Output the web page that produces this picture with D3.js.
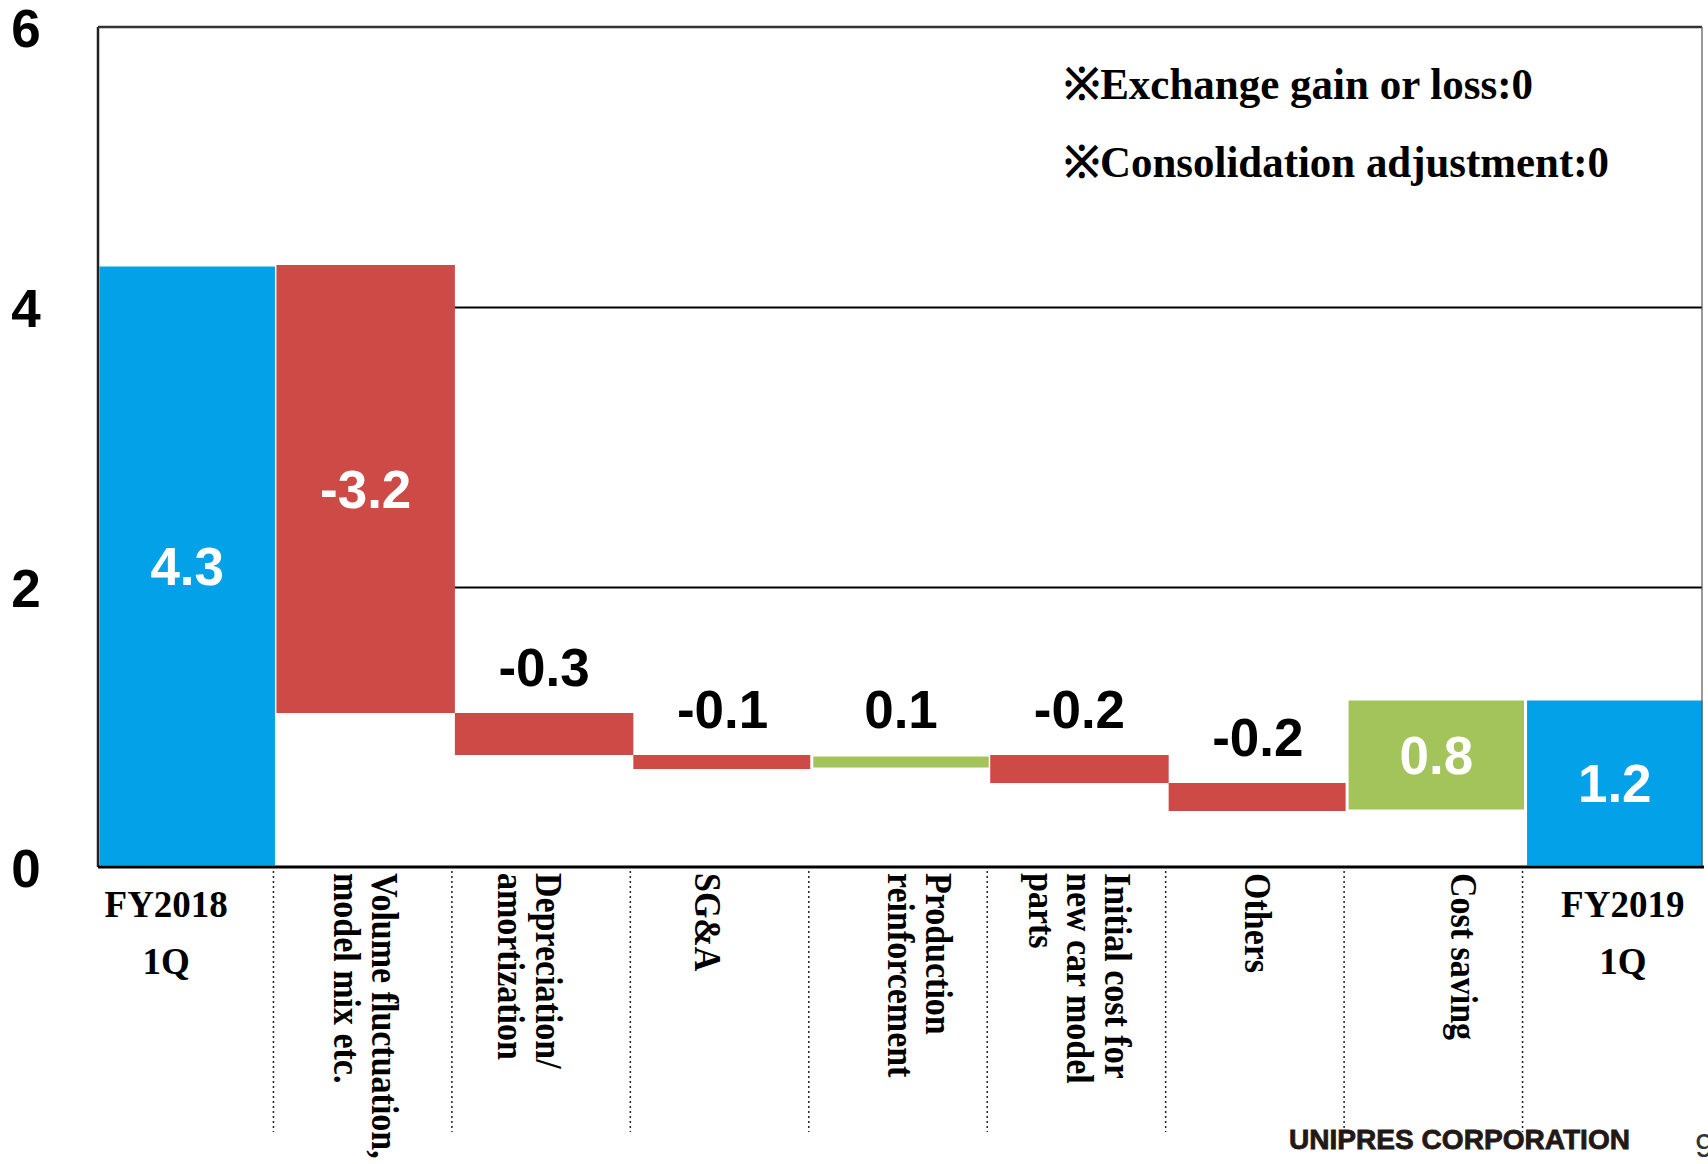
<!DOCTYPE html>
<html>
<head>
<meta charset="utf-8">
<script src="https://cdn.jsdelivr.net/npm/d3@7"></script>
<style>
    body { margin: 0; background: #fff; }
    svg { display: block; }
</style>
</head>
<body>
<div id="wrapper"></div>
<script>
// data
const categories = [
    ["FY2018", "1Q"],
    ["Volume fluctuation,", "model mix etc."],
    ["Depreciation/", "amortization"],
    ["SG&A"],
    ["Production", "reinforcement"],
    ["Initial cost for", "new car model", "parts"],
    ["Others"],
    ["Cost saving"],
    ["FY2019", "1Q"]
]
const values = [4.3, -3.2, -0.3, -0.1, 0.1, -0.2, -0.2, 0.8, 1.2]
const kinds = ["total", "delta", "delta", "delta", "delta", "delta", "delta", "delta", "total"]
const yTicks = [0, 2, 4, 6]
const notes = ["※Exchange gain or loss:0", "※Consolidation adjustment:0"]

const colors = { total: "#02a1e8", down: "#cd4a47", up: "#a2c45a" }
// small horizontal nudges of the category labels (px)
const labelNudge = [-21, 0, -15, -15, 19, 0, 0, 27, 8]

function drawWaterfall() {
    const dimensions = {
        width: 1708,
        height: 1164,
        left: 98,
        right: 1704,
        top: 27,
        bottom: 867
    }

    // waterfall steps
    let running = 0
    const steps = values.map((v, i) => {
        let start, end
        if (kinds[i] === "total") {
            start = 0
            end = v
            running = v
        } else {
            start = running
            end = running + v
            running = end
        }
        return { i, v, kind: kinds[i], lo: Math.min(start, end), hi: Math.max(start, end) }
    })

    const wrapper = d3.select("#wrapper")
        .append("svg")
        .attr("width", dimensions.width)
        .attr("height", dimensions.height)

    wrapper.append("rect")
        .attr("width", dimensions.width)
        .attr("height", dimensions.height)
        .attr("fill", "#fff")

    // scales
    const xScale = d3.scaleBand()
        .domain(d3.range(categories.length))
        .range([dimensions.left, dimensions.right])
        .padding(0)

    const yScale = d3.scaleLinear()
        .domain([0, 6])
        .range([dimensions.bottom, dimensions.top])

    // gridlines
    wrapper.append("g")
        .attr("transform", `translate(${dimensions.left},0)`)
        .call(d3.axisLeft(yScale)
            .tickValues([2, 4])
            .tickSize(-(1702 - dimensions.left))
            .tickFormat(""))
        .call(g => g.select(".domain").remove())
        .call(g => g.selectAll("line").attr("stroke", "#000").attr("stroke-width", 2))

    // bars
    wrapper.append("g")
        .selectAll("rect")
        .data(steps)
        .enter().append("rect")
        .attr("x", d => xScale(d.i))
        .attr("y", d => yScale(d.hi))
        .attr("width", xScale.bandwidth())
        .attr("height", d => yScale(d.lo) - yScale(d.hi))
        .attr("fill", d => d.kind === "total" ? colors.total : (d.v < 0 ? colors.down : colors.up))
        .attr("stroke", d => d.kind === "total" || d.v > 0 ? "#fff" : "none")
        .attr("stroke-width", 3)

    // frame
    const frame = wrapper.append("g").attr("fill", "none")
    frame.append("line")
        .attr("x1", dimensions.left).attr("x2", dimensions.left)
        .attr("y1", dimensions.top).attr("y2", dimensions.bottom)
        .attr("stroke", "#222").attr("stroke-width", 2.5)
    frame.append("line")
        .attr("x1", dimensions.left).attr("x2", 1702)
        .attr("y1", dimensions.top).attr("y2", dimensions.top)
        .attr("stroke", "#333").attr("stroke-width", 2.5)
    frame.append("line")
        .attr("x1", 1702).attr("x2", 1702)
        .attr("y1", dimensions.top).attr("y2", dimensions.bottom)
        .attr("stroke", "#555").attr("stroke-width", 1.2)

    // x axis line
    wrapper.append("g")
        .attr("transform", `translate(0,${dimensions.bottom})`)
        .call(d3.axisBottom(xScale).tickSize(0).tickFormat(""))
        .call(g => g.select(".domain")
            .attr("stroke", "#000")
            .attr("stroke-width", 3)
            .attr("d", `M${dimensions.left},0H${dimensions.right}`))

    // y axis labels
    wrapper.append("g")
        .attr("transform", "translate(26,0)")
        .call(d3.axisLeft(yScale)
            .tickValues(yTicks)
            .tickFormat(d3.format("d"))
            .tickSize(0)
            .tickPadding(0))
        .call(g => g.select(".domain").remove())
        .call(g => g.selectAll("text")
            .attr("x", 0)
            .attr("text-anchor", "middle")
            .attr("dy", "0.36em")
            .attr("fill", "#000")
            .style("font-family", "'Liberation Sans', Arial, sans-serif")
            .style("font-weight", "bold")
            .style("font-size", "53px"))

    // value labels
    const isInside = d => yScale(d.lo) - yScale(d.hi) > 80
    wrapper.append("g")
        .selectAll("text")
        .data(steps)
        .enter().append("text")
        .attr("x", d => xScale(d.i) + xScale.bandwidth() / 2)
        .attr("y", d => isInside(d)
            ? (yScale(d.lo) + yScale(d.hi)) / 2 + 19
            : yScale(d.hi) - 27)
        .attr("text-anchor", "middle")
        .attr("fill", d => isInside(d) ? "#fff" : "#000")
        .style("font-family", "'Liberation Sans', Arial, sans-serif")
        .style("font-weight", "bold")
        .style("font-size", "53px")
        .text(d => d.v.toFixed(1))

    // separators
    wrapper.append("g")
        .selectAll("line")
        .data(d3.range(1, categories.length))
        .enter().append("line")
        .attr("x1", i => xScale(i) - 3)
        .attr("x2", i => xScale(i) - 3)
        .attr("y1", dimensions.bottom + 4)
        .attr("y2", 1132)
        .attr("stroke", "#222")
        .attr("stroke-width", 1.5)
        .attr("stroke-dasharray", "2,3")

    // category labels
    const labelFont = "'Liberation Serif', 'Times New Roman', serif"
    const labels = wrapper.append("g")
        .style("font-family", labelFont)
        .style("font-weight", "bold")
        .attr("fill", "#000")

    categories.forEach((lines, i) => {
        const cx = xScale(i) + xScale.bandwidth() / 2 + labelNudge[i]
        if (kinds[i] === "total") {
            labels.append("text")
                .attr("x", cx)
                .attr("text-anchor", "middle")
                .style("font-size", "37px")
                .selectAll("tspan")
                .data(lines)
                .enter().append("tspan")
                .attr("x", cx)
                .attr("y", (d, k) => 917 + k * 57)
                .text(d => d)
        } else {
            const stretch = 1.12
            const lh = 38
            const cap = 34 * 0.662 * stretch
            const base1 = cx + ((lines.length - 1) * lh - cap) / 2
            labels.append("text")
                .attr("transform", `translate(${base1},${dimensions.bottom + 6}) rotate(90) scale(1,${stretch})`)
                .style("font-size", "34px")
                .selectAll("tspan")
                .data(lines)
                .enter().append("tspan")
                .attr("x", 0)
                .attr("y", (d, k) => k * lh / stretch)
                .text(d => d)
        }
    })

    // notes
    const noteWidths = [469, 545]
    wrapper.append("g")
        .selectAll("text")
        .data(notes)
        .enter().append("text")
        .attr("x", 1064)
        .attr("y", (d, k) => 99 + k * 78)
        .attr("textLength", (d, k) => noteWidths[k])
        .attr("lengthAdjust", "spacingAndGlyphs")
        .style("font-family", labelFont)
        .style("font-weight", "bold")
        .style("font-size", "44px")
        .text(d => d)

    // footer
    wrapper.append("text")
        .attr("x", 1289)
        .attr("y", 1149)
        .attr("textLength", 341)
        .attr("lengthAdjust", "spacingAndGlyphs")
        .attr("fill", "#231815")
        .attr("stroke", "#231815")
        .attr("stroke-width", 0.8)
        .style("font-family", "'Liberation Sans', Arial, sans-serif")
        .style("font-weight", "bold")
        .style("font-size", "28px")
        .text("UNIPRES CORPORATION")

    wrapper.append("text")
        .attr("x", 1695)
        .attr("y", 1157)
        .attr("fill", "#333")
        .style("font-family", "'Liberation Sans', Arial, sans-serif")
        .style("font-size", "34px")
        .text("9")
}

drawWaterfall()
</script>
</body>
</html>
